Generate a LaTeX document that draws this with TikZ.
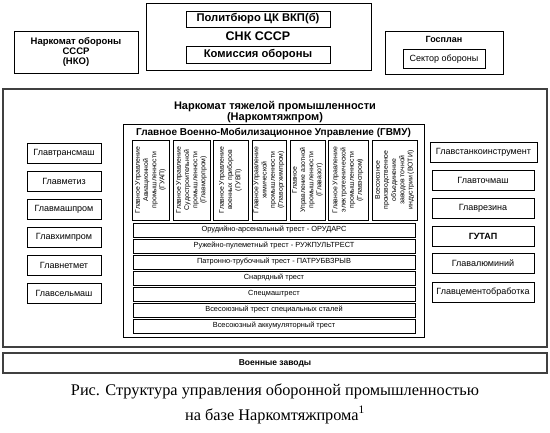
\documentclass[tikz,border=0pt]{standalone}
\usepackage{fontspec}
\setmainfont{Liberation Serif}
\newfontfamily\arial{Liberation Sans}
\begin{document}
\begin{tikzpicture}[x=1pt,y=-1pt,
  bx/.style={draw, line width=0.7pt, inner sep=0pt, align=center, font=\arial\fontsize{9}{10.5}\selectfont},
  big/.style={draw=black!75, line width=1.5pt, inner sep=0pt},
  vbox/.style={bx, rotate=90, minimum width=80, font=\arial\fontsize{6.9}{8.2}\selectfont},
  trust/.style={bx, minimum width=282, minimum height=14, font=\arial\fontsize{7.4}{8}\selectfont},
  lbox/.style={bx, minimum width=74, minimum height=20},
  rbox/.style={bx, minimum width=102, minimum height=20},
  txt/.style={inner sep=0pt, align=center},
  captxt/.style={inner sep=0pt, font=\fontsize{16.3}{18}\selectfont}]
\useasboundingbox (0,0) rectangle (550,432);
% top row
\node[bx, minimum width=124, minimum height=42, font=\arial\bfseries\fontsize{9.5}{10}\selectfont] (nko) at (76,52) {Наркомат обороны\\СССР\\(НКО)};
\node[bx, minimum width=225, minimum height=67] (snk) at (258.5,36.5) {};
\node[txt, font=\arial\bfseries\fontsize{12.5}{14}\selectfont] (snkt) at (258,36.5) {СНК СССР};
\node[bx, minimum width=144, minimum height=16, font=\arial\bfseries\fontsize{11.2}{12}\selectfont] (pb) at (258,19) {Политбюро ЦК ВКП(б)};
\node[bx, minimum width=144, minimum height=17, font=\arial\bfseries\fontsize{11.2}{12}\selectfont] (ko) at (258,54.5) {Комиссия обороны};
\node[bx, minimum width=118, minimum height=43] (gp) at (444,52.5) {};
\node[txt, font=\arial\bfseries\fontsize{9}{10}\selectfont] (gpt) at (444,39.5) {Госплан};
\node[bx, minimum width=82, minimum height=19] (so) at (444,59) {Сектор обороны};
% Narkomtyazhprom
\node[big, minimum width=544, minimum height=258] (ntp) at (275,218) {};
\node[txt, font=\arial\bfseries\fontsize{11}{11.5}\selectfont] (ntpt) at (275,112) {Наркомат тяжелой промышленности\\(Наркомтяжпром)};
\node[bx, minimum width=301, minimum height=213] (gvmu) at (273.5,230.5) {};
\node[txt, font=\arial\bfseries\fontsize{10}{11}\selectfont] (gvmut) at (273.5,132.5) {Главное Военно-Мобилизационное Управление (ГВМУ)};
% vertical boxes
\node[vbox, minimum height=37] (v1) at (150.5,180) {Главное Управление\\Авиационной\\промышленности\\(ГУАП)};
\node[vbox, minimum height=37] (v2) at (191.5,180) {Главное Управление\\Судостроительной\\промышленности\\(Главморпром)};
\node[vbox, minimum height=35] (v3) at (230.5,180) {Главное Управление\\военных приборов\\(ГУВП)};
\node[vbox, minimum height=34] (v4) at (269,180) {Главное Управление\\химической\\промышленности\\(Главоргхимпром)};
\node[vbox, minimum height=35] (v5) at (307.5,180) {Главное\\Управление азотной\\промышленности\\(Главазот)};
\node[vbox, minimum height=40] (v6) at (348,180) {Главное Управление\\электротехнической\\промышленности\\(Главэспром)};
\node[vbox, minimum height=45] (v7) at (394.5,180) {Всесоюзное\\производственное\\объединение\\заводов точной\\индустрии (ВОТИ)};
% trusts
\node[trust] (t1) at (274,230) {Орудийно-арсенальный трест - ОРУДАРС};
\node[trust] (t2) at (274,246) {Ружейно-пулеметный трест - РУЖПУЛЬТРЕСТ};
\node[trust] (t3) at (274,262) {Патронно-трубочный трест - ПАТРУБВЗРЫВ};
\node[trust] (t4) at (274,278) {Снарядный трест};
\node[trust] (t5) at (274,294) {Спецмаштрест};
\node[trust] (t6) at (274,310) {Всесоюзный трест специальных сталей};
\node[trust] (t7) at (274,326) {Всесоюзный аккумуляторный трест};
% left column
\node[lbox] (l1) at (64,153) {Главтрансмаш};
\node[lbox] (l2) at (64,181) {Главметиз};
\node[lbox] (l3) at (64,209) {Главмашпром};
\node[lbox] (l4) at (64,237) {Главхимпром};
\node[lbox] (l5) at (64,265) {Главнетмет};
\node[lbox] (l6) at (64,293) {Главсельмаш};
% right column
\node[rbox, minimum width=107] (r1) at (483.5,152) {Главстанкоинструмент};
\node[rbox] (r2) at (483,180) {Главточмаш};
\node[rbox] (r3) at (483,208) {Главрезина};
\node[rbox, font=\arial\bfseries\fontsize{9}{10.5}\selectfont] (r4) at (483,236) {ГУТАП};
\node[rbox] (r5) at (483,263) {Главалюминий};
\node[rbox] (r6) at (483,292) {Главцементобработка};
% plants
\node[big, minimum width=544, minimum height=20, font=\arial\bfseries\fontsize{8.5}{10}\selectfont] (vz) at (275,363) {Военные заводы};
% caption
\node[captxt] (c1) at (275,391) {Рис. Структура управления оборонной промышленностью};
\node[captxt] (c2) at (275,415) {на базе Наркомтяжпрома\textsuperscript{1}};
\end{tikzpicture}
\end{document}
